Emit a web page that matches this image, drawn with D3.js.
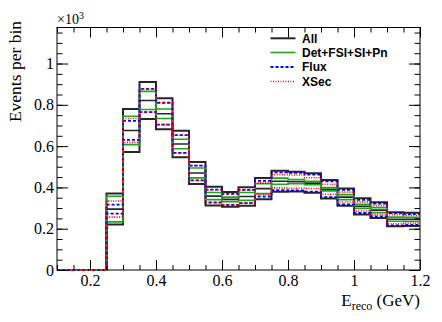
<!DOCTYPE html>
<html><head><meta charset="utf-8">
<script src="https://cdn.jsdelivr.net/npm/d3@7/dist/d3.min.js"></script>
<style>body{margin:0;background:#fff}svg{display:block}</style>
</head><body>
<svg id="c" width="442" height="322"></svg>
<script>
// bin low edges (GeV); last bin ends at 1.2
const binLow = [0.10,0.15,0.20,0.25,0.30,0.35,0.40,0.45,0.50,0.55,0.60,0.65,0.70,0.75,0.80,0.85,0.90,0.95,1.00,1.05,1.10,1.15];
const binHigh = 1.2;
// nominal events per bin (x10^3)
const nominal = [0,0,0,0.295,0.676,0.821,0.757,0.610,0.470,0.358,0.342,0.356,0.394,0.430,0.428,0.421,0.391,0.353,0.308,0.290,0.246,0.245];
// error band half-widths (x10^3)
const errAll  = [0,0,0,0.075,0.104,0.090,0.075,0.064,0.053,0.045,0.036,0.045,0.051,0.051,0.048,0.047,0.045,0.042,0.039,0.038,0.034,0.032];
const errDet  = [0,0,0,0.062,0.069,0.044,0.023,0.023,0.024,0.017,0.011,0.019,0.024,0.015,0.010,0.008,0.008,0.012,0.010,0.012,0.010,0.010];
const errFlux = [0,0,0,0.022,0.046,0.056,0.053,0.043,0.036,0.031,0.027,0.032,0.038,0.043,0.043,0.041,0.038,0.035,0.032,0.031,0.030,0.026];
const errXsec = [0,0,0,0.039,0.058,0.056,0.053,0.043,0.036,0.031,0.027,0.032,0.028,0.032,0.032,0.026,0.024,0.024,0.022,0.022,0.022,0.019];
const legendNames = ["All","Det+FSI+SI+Pn","Flux","XSec"];
const xMajor = [0.2,0.4,0.6,0.8,1.0,1.2];
const xMajorLabels = ["0.2","0.4","0.6","0.8","1","1.2"];
const yMajor = [0,0.2,0.4,0.6,0.8,1.0];
const yMajorLabels = ["0","0.2","0.4","0.6","0.8","1"];

const svg = d3.select("#c");
const L=57, R=420, T=27.5, B=270;
const x = d3.scaleLinear().domain([0.1,1.2]).range([L,R]);
const y = d3.scaleLinear().domain([0,1.1745]).range([B,T]);

const series = [
  {name:legendNames[0], err:errAll,  color:"#262626", width:2,   dash:null},
  {name:legendNames[1], err:errDet,  color:"#1ea51e", width:1.6, dash:null},
  {name:legendNames[2], err:errFlux, color:"#0000ff", width:1.8, dash:"3,2"},
  {name:legendNames[3], err:errXsec, color:"#ff0000", width:1.6, dash:"1,1.5"}
];

svg.append("defs").append("clipPath").attr("id","clip")
  .append("rect").attr("x",L).attr("y",T).attr("width",R-L).attr("height",B-T+1.5);

const line = d3.line().x(d=>x(d[0])).y(d=>y(d[1])).curve(d3.curveStepAfter);
function pts(vals){
  const p = binLow.map((e,i)=>[e, vals[i]]);
  p.push([binHigh, vals[vals.length-1]]);
  return p;
}
// frame
svg.append("rect").attr("x",L).attr("y",T).attr("width",R-L).attr("height",B-T)
  .attr("fill","none").attr("stroke","#000").attr("stroke-width",1);

const g = svg.append("g").attr("clip-path","url(#clip)");
// nominal
g.append("path").attr("d", line(pts(nominal))).attr("fill","none")
  .attr("stroke","#262626").attr("stroke-width",1.6);
series.forEach(s=>{
  [1,-1].forEach(sg=>{
    const vals = nominal.map((v,i)=>v + sg*s.err[i]);
    g.append("path").attr("d", line(pts(vals))).attr("fill","none")
      .attr("stroke", s.color).attr("stroke-width", s.width)
      .attr("stroke-dasharray", s.dash);
  });
});

const font = "'Liberation Serif','Times New Roman',serif";
const xMinor = d3.range(0.1,1.2001,0.05);
const yMinor = d3.range(0,1.1745,0.05);
function style(sel){ sel.select(".domain").remove(); sel.selectAll("line").attr("stroke","#000"); }

svg.append("g").attr("transform",`translate(0,${B})`)
  .call(d3.axisBottom(x).tickValues(xMinor).tickSize(-5).tickFormat("")).call(style);
svg.append("g").attr("transform",`translate(0,${B})`)
  .call(d3.axisBottom(x).tickValues(xMajor).tickSize(-10).tickPadding(5)
    .tickFormat((d,i)=>xMajorLabels[i])).call(style)
  .selectAll("text").attr("font-family",font).attr("font-size",16).attr("fill","#000");
svg.append("g").attr("transform",`translate(0,${T})`)
  .call(d3.axisTop(x).tickValues(xMinor).tickSize(-5).tickFormat("")).call(style);
svg.append("g").attr("transform",`translate(0,${T})`)
  .call(d3.axisTop(x).tickValues(xMajor).tickSize(-10).tickFormat("")).call(style);

svg.append("g").attr("transform",`translate(${L},0)`)
  .call(d3.axisLeft(y).tickValues(yMinor).tickSize(-5.5).tickFormat("")).call(style);
svg.append("g").attr("transform",`translate(${L},0)`)
  .call(d3.axisLeft(y).tickValues(yMajor).tickSize(-11).tickPadding(3)
    .tickFormat((d,i)=>yMajorLabels[i])).call(style)
  .selectAll("text").attr("font-family",font).attr("font-size",16).attr("fill","#000");
svg.append("g").attr("transform",`translate(${R},0)`)
  .call(d3.axisRight(y).tickValues(yMinor).tickSize(-5.5).tickFormat("")).call(style);
svg.append("g").attr("transform",`translate(${R},0)`)
  .call(d3.axisRight(y).tickValues(yMajor).tickSize(-11).tickFormat("")).call(style);

// x10^3
const ex = svg.append("text").attr("x",L).attr("y",24).attr("font-family",font).attr("font-size",14);
ex.append("tspan").text("×10");
ex.append("tspan").attr("font-size",10).attr("dy",-5).text("3");

// axis titles
const xt = svg.append("text").attr("x",R).attr("y",305.5).attr("text-anchor","end")
  .attr("font-family",font).attr("font-size",17);
xt.append("tspan").text("E");
xt.append("tspan").attr("font-size",12).attr("dy",4).text("reco");
xt.append("tspan").attr("dy",-4).text(" (GeV)");

svg.append("text").attr("transform","translate(21,21) rotate(-90)").attr("text-anchor","end")
  .attr("font-family",font).attr("font-size",17.5).text("Events per bin");

// legend
const lg = svg.append("g");
const rowY = [38.3,52.5,67,81.5];
series.forEach((s,i)=>{
  lg.append("line").attr("x1",270.5).attr("x2",295.5).attr("y1",rowY[i]).attr("y2",rowY[i])
    .attr("stroke",s.color).attr("stroke-width",s.width).attr("stroke-dasharray",s.dash);
  lg.append("text").attr("x",302).attr("y",rowY[i]).attr("dy","0.35em")
    .attr("font-family","'Liberation Sans',Arial,sans-serif").attr("font-weight","bold")
    .attr("font-size",12).text(s.name);
});
</script>
</body></html>
